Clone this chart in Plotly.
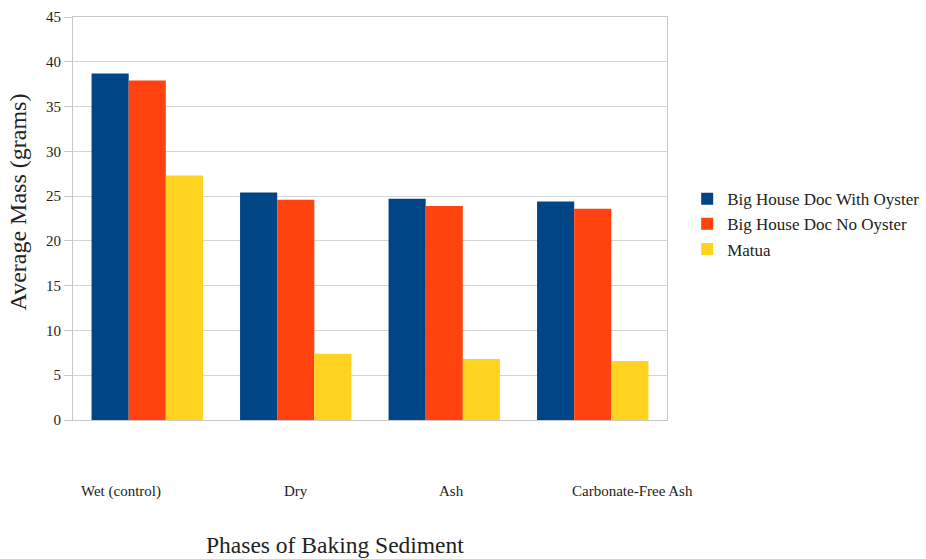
import plotly.graph_objects as go

# Sediment mass at each baking phase
phases = ["Wet (control)", "Dry", "Ash", "Carbonate-Free Ash"]
with_oyster = [38.7, 25.4, 24.7, 24.4]
no_oyster = [37.9, 24.6, 23.9, 23.6]
matua = [27.3, 7.4, 6.8, 6.6]

series_names = ["Big House Doc With Oyster", "Big House Doc No Oyster", "Matua"]
series_values = [with_oyster, no_oyster, matua]
colors = ["#004586", "#ff420e", "#ffd320"]

serif = "Liberation Serif, Times New Roman, serif"

# Horizontal placement of the category captions under the axis (in category units)
caption_x = [-0.178, 1.0, 2.05, 3.27]

fig = go.Figure()
for name, vals, col in zip(series_names, series_values, colors):
    fig.add_trace(go.Bar(name=name, x=list(range(len(phases))), y=vals,
                         marker=dict(color=col, line=dict(width=0))))

annotations = []
for cx, label in zip(caption_x, phases):
    annotations.append(dict(text=label, x=cx, xref="x", y=0, yref="paper",
                            yshift=-71, xanchor="center", yanchor="middle", showarrow=False,
                            font=dict(family=serif, size=15, color="#222")))
annotations.append(dict(text="Phases of Baking Sediment", x=0.441, xref="paper", y=0, yref="paper",
                        yshift=-125, xanchor="center", yanchor="middle", showarrow=False,
                        font=dict(family=serif, size=23.5, color="#222")))
annotations.append(dict(text="Average Mass (grams)", textangle=-90, x=0, xref="paper",
                        xshift=-55, y=0.54, yref="paper", xanchor="center", yanchor="middle",
                        showarrow=False, font=dict(family=serif, size=24, color="#222")))

fig.update_layout(
    width=926, height=559,
    margin=dict(l=73, r=259, t=17, b=139, autoexpand=False),
    paper_bgcolor="white", plot_bgcolor="white",
    barmode="group", bargap=0.25, bargroupgap=0,
    font=dict(family=serif, color="#222"),
    xaxis=dict(range=[-0.5, 3.5], showticklabels=False, ticks="", showgrid=False,
               showline=True, linecolor="#c8c8c8", linewidth=1, mirror=True, zeroline=False),
    yaxis=dict(range=[0, 45], dtick=5, tick0=0, ticks="outside", ticklen=8, tickcolor="#c8c8c8",
               showgrid=True, gridcolor="#d4d4d4", gridwidth=1,
               showline=True, linecolor="#c8c8c8", linewidth=1, mirror=True, zeroline=False,
               tickfont=dict(family=serif, size=15, color="#222")),
    legend=dict(x=1.034, y=0.486, xanchor="left", yanchor="middle",
                font=dict(family=serif, size=17, color="#222"),
                tracegroupgap=0, itemsizing="constant"),
    annotations=annotations,
)

fig.write_html("out.html")
